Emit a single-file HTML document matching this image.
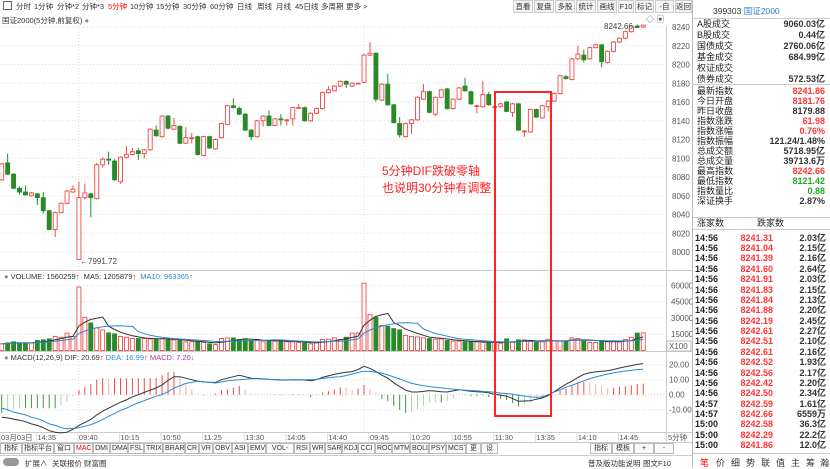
<!DOCTYPE html>
<html><head><meta charset="utf-8">
<style>
*{margin:0;padding:0;box-sizing:border-box}
body{width:830px;height:468px;overflow:hidden;background:#fff;font-family:"Liberation Sans","Noto Sans CJK SC",sans-serif;font-size:8px;color:#333;position:relative}
.a{position:absolute;white-space:nowrap}
.tb span{position:absolute;top:2px;font-size:7.5px;line-height:9px}
.btn{position:absolute;top:0;height:13px;border:1px solid #ccc;background:#f4f4f4;text-align:center;line-height:11px;font-size:7.5px;overflow:hidden}
.rp .l{position:absolute;left:697px;font-size:9px;line-height:10px;color:#222}
.rp .v{position:absolute;right:5px;font-size:9px;line-height:10px;font-weight:bold;color:#333}
.tk{position:absolute;font-size:9px;line-height:10px;font-weight:bold}
.ind{position:absolute;top:443px;height:11px;border:1px solid #bbb;line-height:9px;padding:0 1px;font-size:7px;background:#fafafa;overflow:hidden;text-align:center}
</style></head><body>
<div class="tb">
<span class="a" style="left:3px;top:1px;width:9px;height:9px;border:1px solid #666"></span>
<span class="a" style="left:16px">分时</span>
<span class="a" style="left:34px">1分钟</span>
<span class="a" style="left:57px">分钟*2</span>
<span class="a" style="left:82px">分钟*3</span>
<span class="a" style="left:108px;color:#f00">5分钟</span>
<span class="a" style="left:130px">10分钟</span>
<span class="a" style="left:156px">15分钟</span>
<span class="a" style="left:183px">30分钟</span>
<span class="a" style="left:210px">60分钟</span>
<span class="a" style="left:237px">日线</span>
<span class="a" style="left:257px">周线</span>
<span class="a" style="left:276px">月线</span>
<span class="a" style="left:295px">45日线</span>
<span class="a" style="left:321px">多周期</span>
<span class="a" style="left:346px">更多 &gt;</span>
</div>
<div class="btn" style="left:513px;width:20px">直看</div>
<div class="btn" style="left:534px;width:20px">复盘</div>
<div class="btn" style="left:555px;width:20px">多股</div>
<div class="btn" style="left:576px;width:20px">统计</div>
<div class="btn" style="left:597px;width:20px">画线</div>
<div class="btn" style="left:618px;width:16px">F10</div>
<div class="btn" style="left:635px;width:19px">标记</div>
<div class="btn" style="left:655px;width:19px">-自选</div>
<div class="btn" style="left:675px;width:17px">返回</div>
<div class="a" style="left:2px;top:15px;font-size:7.5px">国证2000(5分钟,前复权) <span style="color:#888">●</span></div>
<div class="a" style="left:646px;top:14px;font-size:8px;color:#555">◇ ▣</div>

<svg id="ch" class="a" style="left:0;top:0" width="692" height="468"></svg>

<div class="a" style="left:80px;top:257px;font-size:8px;color:#444">←7991.72</div>
<div class="a" style="left:604px;top:22px;font-size:8px;color:#444">8242.66←</div>
<div class="a" style="left:382px;top:163px;font-size:12px;color:#f22;line-height:17px">5分钟DIF跌破零轴<br>也说明30分钟有调整</div>
<div class="a" style="left:4px;top:272px;font-size:7.5px"><span style="color:#888">●</span> VOLUME: 1560259<span style="color:#f00">↑</span> &nbsp;MA5: 1205879<span style="color:#f00">↑</span> &nbsp;<span style="color:#2a8ad8">MA10: 963365</span><span style="color:#f00">↑</span></div>
<div class="a" style="left:4px;top:353px;font-size:7.5px"><span style="color:#888">●</span> MACD(12,26,9) DIF: 20.69<span style="color:#f00">↑</span> <span style="color:#2a8ad8">DEA: 16.99</span><span style="color:#f00">↑</span> <span style="color:#a040a0">MACD: 7.20</span><span style="color:#2a2">↓</span></div>

<div class="rp">
<div class="a" style="left:692px;top:0;width:1px;height:468px;background:#bbb"></div>
<div class="a" style="left:713px;top:5px;font-size:8.5px">399303 <span style="color:#2a7ad8">国证2000</span></div>
<div class="a" style="left:693px;top:18px;width:137px;height:1px;background:#ccc"></div>
<div id="rows"></div>
</div>

<div class="a" style="left:693px;top:453px;width:137px;height:15px;border-top:1px solid #ccc">
<span class="a" style="left:7px;top:2px;color:#f00;font-size:9px">笔</span>
<span class="a" style="left:23px;top:2px;font-size:9px">价</span>
<span class="a" style="left:38px;top:2px;font-size:9px">细</span>
<span class="a" style="left:53px;top:2px;font-size:9px">势</span>
<span class="a" style="left:68px;top:2px;font-size:9px">联</span>
<span class="a" style="left:83px;top:2px;font-size:9px">值</span>
<span class="a" style="left:98px;top:2px;font-size:9px">主</span>
<span class="a" style="left:113px;top:2px;font-size:9px">筹</span>
<span class="a" style="left:127px;top:2px;font-size:9px">瀚</span>
</div>

<div id="indbar"></div>
<div class="a" style="left:0;top:455px;width:692px;height:13px;border-top:1px solid #ccc;font-size:7.5px">
<span class="a" style="left:3px;top:2px;width:16px;height:8px;border-radius:4px;background:#999"></span>
<span class="a" style="left:25px;top:2px">扩展∧</span>
<span class="a" style="left:52px;top:2px">关联报价</span>
<span class="a" style="left:84px;top:2px">财富圈</span>
<span class="a" style="left:588px;top:2px">普及版功能说明</span>
<span class="a" style="left:643px;top:2px">图文F10</span>
</div>

<script>
const opens=[8077,8095,8083,8068,8064,8060,8062,8058,8044,8024,8042,8052,8064,7992,8058,8062,8057,8093,8099,8097,8075,8101,8104,8108,8105,8109,8130,8123,8145,8131,8134,8116,8121,8123,8103,8123,8110,8122,8136,8156,8153,8147,8130,8123,8140,8145,8135,8142,8140,8142,8154,8154,8140,8148,8153,8170,8172,8177,8182,8177,8180,8181,8210,8212,8162,8179,8157,8137,8123,8137,8141,8163,8171,8147,8165,8174,8153,8163,8177,8171,8156,8155,8168,8155,8155,8160,8149,8158,8129,8128,8152,8143,8155,8161,8169,8187,8184,8206,8210,8206,8218,8221,8202,8214,8224,8228,8235,8241,8240];
const closes=[8094,8083,8068,8064,8061,8063,8058,8044,8024,8042,8052,8065,8067,8058,8063,8058,8093,8099,8098,8077,8101,8104,8107,8105,8109,8131,8124,8145,8132,8135,8116,8122,8122,8104,8123,8111,8120,8137,8156,8154,8147,8130,8123,8140,8145,8135,8142,8141,8141,8154,8154,8140,8148,8153,8170,8173,8177,8182,8179,8180,8180,8210,8212,8163,8179,8157,8138,8125,8137,8141,8165,8171,8149,8165,8173,8153,8163,8175,8172,8158,8156,8168,8157,8155,8158,8150,8158,8130,8129,8152,8144,8156,8161,8169,8188,8185,8206,8211,8205,8218,8221,8203,8214,8224,8228,8235,8241,8240,8242];
const highs=[8095,8105,8084,8070,8071,8064,8063,8064,8045,8043,8053,8066,8071,8075,8073,8063,8095,8101,8107,8099,8102,8113,8111,8111,8110,8132,8135,8146,8146,8143,8135,8133,8127,8124,8124,8124,8121,8138,8157,8164,8155,8148,8131,8141,8146,8151,8143,8147,8142,8155,8158,8155,8149,8154,8171,8177,8178,8183,8183,8181,8181,8211,8224,8213,8180,8190,8158,8144,8138,8142,8166,8179,8172,8166,8174,8175,8164,8176,8186,8172,8157,8182,8171,8156,8159,8161,8159,8159,8130,8153,8153,8157,8162,8170,8189,8189,8207,8220,8216,8219,8222,8222,8215,8225,8229,8236,8242,8242.66,8242.5];
const lows=[8076,8082,8067,8061,8060,8059,8050,8041,8023,8016,8041,8051,8063,7992,8056,8037,8056,8090,8093,8076,8073,8100,8103,8098,8100,8108,8123,8122,8131,8130,8115,8115,8116,8103,8102,8110,8109,8121,8135,8153,8146,8129,8119,8122,8134,8134,8134,8135,8135,8135,8153,8139,8139,8147,8152,8169,8171,8176,8175,8176,8179,8180,8209,8160,8161,8156,8137,8122,8122,8126,8140,8162,8148,8145,8164,8152,8152,8162,8171,8157,8148,8154,8156,8154,8154,8149,8144,8129,8123,8127,8143,8142,8150,8160,8168,8184,8183,8205,8202,8205,8217,8197,8201,8213,8223,8227,8234,8239,8239];
const volumes=[6100,7000,8000,7000,7000,7000,9200,9800,10700,13000,12200,16000,13000,58500,30600,25400,20800,19000,16200,15300,13000,12200,11000,11000,11000,10700,10400,11000,9800,9800,9200,8000,8000,8000,7400,6100,5500,11000,11600,11600,10100,9800,9200,10100,8000,9200,8600,9200,8000,8000,7400,7000,6100,7000,10100,10400,11600,10100,12200,16000,16200,62000,33000,30600,23000,22300,20200,19000,13800,13000,12500,11600,11000,10400,10700,9200,8600,8600,8000,8000,8000,7400,7400,7400,6700,10700,7400,9800,9800,9200,7400,8000,10400,9200,8600,8600,11600,11000,9200,7400,7400,9200,8000,8000,8000,10100,12200,16000,16200];
const difValues=[-15,-15.5,-16.3,-17,-18,-19.5,-20.5,-22,-24,-25,-25.5,-25,-23,-20.5,-18.5,-16.5,-13.5,-11,-9,-7,-5,-3.5,-1.5,0,1.5,3,4.5,6.5,9.5,12,12,11,10,9,8.5,8.2,8.2,10,11,12,12.9,12,11,10.8,10.5,10.2,10,9.8,9.8,10,10,9.8,9.3,10,11.5,12.5,13.5,14.4,15,15.4,16.8,18.9,17.5,15.5,13,11,8,5.4,3,1.8,1.8,2.2,2.7,2.4,1.9,1.8,2.5,3.3,2.8,2.3,2,1.8,1.2,0.3,-0.3,-1,-2.5,-4.4,-4.2,-4,-3,-2.2,-0.5,2,4.5,7,9,11.5,13.5,14.6,15.2,15.6,16,16.8,17.8,18.6,19.4,20.2,20.7];
const deaValues=[-8.9,-10,-11.6,-12.5,-13.5,-15,-16,-17.5,-19.5,-20.5,-22,-22.7,-22.5,-22,-21,-20,-18.5,-16.5,-14.4,-12.5,-10.5,-9,-7,-5.5,-4,-2.5,-1,0,2,4.4,6,7.5,8.2,8.9,8.7,8.2,7.8,8.5,9.3,9.6,10,10.3,10.7,10.6,10.4,10.2,10.1,10,9.9,9.8,9.8,9.9,10.1,10.2,10.8,11.3,11.8,12,12.8,13.8,14.8,15.6,15.5,15,14.4,13.2,11.8,10.5,9,7.5,6.7,6,5.4,4.9,4.5,4.1,3.7,3.3,3,2.8,2.5,2.2,2,1.6,1.1,0.8,0.3,-0.4,-0.9,-1.5,-1.8,-1.5,0,1.8,3.2,5,6.2,7.8,9.3,10.7,11.8,12.8,13.8,14.5,15.2,15.8,16.3,16.7,17];
const priceTicks=[8240,8220,8200,8180,8160,8140,8120,8100,8080,8060,8040,8020,8000];
const volTicks=[60000,45000,30000,15000];
const macdTicks=[20,10,0,-10];
const timeLabels=["03月03日","14:35","09:40","10:15","10:50","11:25","13:30","14:05","14:40","09:45","10:20","10:55","11:30","13:35","14:10","14:45"];
const timeLabelIdx=[-1,6,13,20,27,34,41,48,55,62,69,76,83,90,97,104];
const dayStartIdx=[13,61];

const NS="http://www.w3.org/2000/svg";
const svg=document.getElementById('ch');
const RIGHT=666;
const xOf=i=>1.7+i*5.94;
const yP=p=>252-(p-8000)*0.9375;
const yV=v=>350.5-v*0.001085;
const yM=m=>394.7-m*1.5;
function mk(tag,attrs,parent){const e=document.createElementNS(NS,tag);for(const k in attrs)e.setAttribute(k,attrs[k]);(parent||svg).appendChild(e);return e;}
function txt(x,y,s,attrs){const t=mk('text',Object.assign({x:x,y:y,'font-size':'8','fill':'#555','font-family':'"Liberation Sans","Noto Sans CJK SC",sans-serif'},attrs||{}));t.textContent=s;return t;}

[[270],[351],[432]].forEach(function(a){const l=mk('line',{x1:0,x2:692,y1:a[0]+0.5,y2:a[0]+0.5,stroke:'#ccc'});

});
const ax=mk('line',{x1:RIGHT+0.5,x2:RIGHT+0.5,y1:26,y2:442,stroke:'#ccc'});



priceTicks.forEach(function(p){
 const g=mk('line',{x1:0,x2:RIGHT,y1:yP(p),y2:yP(p),stroke:'#ddd','stroke-dasharray':'1,2'});
 
 
 const t=txt(RIGHT+6,yP(p)+3,String(p));
 
 
});
volTicks.forEach(function(v){
 const g=mk('line',{x1:0,x2:RIGHT,y1:yV(v),y2:yV(v),stroke:'#ddd','stroke-dasharray':'1,2'});
 
 
 const t=txt(RIGHT+5,yV(v)+3,String(v));
 
 
});
const xb=mk('rect',{x:RIGHT+1,y:341,width:24,height:10,fill:'#fff',stroke:'#bbb'});


const xt=txt(RIGHT+3,349,'X100');


macdTicks.forEach(function(m){
 const g=mk('line',{x1:0,x2:RIGHT,y1:yM(m),y2:yM(m),stroke:m===0?'#ccc':'#ddd','stroke-dasharray':'1,2'});
 
 
 const t=txt(RIGHT+3,yM(m)+3,m.toFixed(2));
 
 
});
dayStartIdx.forEach(function(i){
 const g=mk('line',{x1:xOf(i),x2:xOf(i),y1:26,y2:432,stroke:'#ddd','stroke-dasharray':'1,2'});
 
 
});
const ta=mk('line',{x1:0,x2:692,y1:442.5,y2:442.5,stroke:'#ccc'});


timeLabels.forEach(function(s,k){
 const x=timeLabelIdx[k]<0?0:xOf(timeLabelIdx[k])-1;
 const tk=mk('line',{x1:x,x2:x,y1:433,y2:442,stroke:'#ddd'});
 
 
 const t=txt(x+1,440,s,{'font-size':'7.5'});
 
 
});
const pl=txt(RIGHT+2,440,'5分钟',{'font-size':'7.5'});



const RED='#f04848',GREEN='#2a8a2a';
for(let i=0;i<opens.length;i++){
 const x=xOf(i),o=opens[i],c=closes[i],up=c>=o;
 const col=up?RED:GREEN;
 const top=yP(Math.max(o,c)),bot=yP(Math.min(o,c));
 const w1=mk('line',{x1:x,x2:x,y1:yP(highs[i]),y2:top,stroke:col});
 
 
 const w2=mk('line',{x1:x,x2:x,y1:bot,y2:yP(lows[i]),stroke:col});
 
 
 const b=mk('rect',{x:x-2,y:top,width:4,height:Math.max(bot-top,0.8),fill:up?'#fff':col,stroke:col,'stroke-width':'0.9'});
 
 
 const vb=mk('rect',{x:x-2,y:yV(volumes[i]),width:4,height:350.5-yV(volumes[i]),fill:up?'#fff':col,stroke:col,'stroke-width':'0.9'});
 
 
}
function ma(n){return volumes.map(function(v,i){let s=0,c=0;for(let k=Math.max(0,i-n+1);k<=i;k++){s+=volumes[k];c++;}return s/c;});}
function poly(vals,yf,col,name){
 const pts=vals.map(function(v,i){return xOf(i).toFixed(1)+','+yf(v).toFixed(1);}).join(' ');
 const p=mk('polyline',{points:pts,fill:'none',stroke:col,'stroke-width':'1'});
 
 
}
poly(ma(5),yV,'#333','volume-ma5-line');
poly(ma(10),yV,'#2a8ad8','volume-ma10-line');
for(let i=0;i<difValues.length;i++){
 const h=2*(difValues[i]-deaValues[i]);
 const prev=i>0?2*(difValues[i-1]-deaValues[i-1]):h;
 const strong=Math.abs(h)>=Math.abs(prev);
 const col=h>=0?(strong?'#f04848':'#f8b0b0'):(strong?'#3a9a3a':'#a8d8a8');
 const l=mk('line',{x1:xOf(i),x2:xOf(i),y1:yM(0),y2:yM(h),stroke:col,'stroke-width':'1'});
 
 
}
poly(difValues,yM,'#333','dif-line');
poly(deaValues,yM,'#2a8ad8','dea-line');
const box=mk('rect',{x:495,y:92,width:56,height:324,fill:'none',stroke:'#f22','stroke-width':'2'});



const rows=document.getElementById('rows');
const top1=[["A股成交","9060.03亿"],["B股成交","0.44亿"],["国债成交","2760.06亿"],["基金成交","684.99亿"],["权证成交",""],["债券成交","572.53亿"]];
const top2=[["最新指数","8241.86","#f33"],["今日开盘","8181.76","#f33"],["昨日收盘","8179.88","#333"],["指数涨跌","61.98","#f33"],["指数涨幅","0.76%","#f33"],["指数振幅","121.24/1.48%","#333"],["总成交额","5718.95亿","#333"],["总成交量","39713.6万","#333"],["最高指数","8242.66","#f33"],["最低指数","8121.42","#2a2"],["指数量比","0.88","#2a2"],["深证换手","2.87%","#333"]];
function addRow(lbl,val,col,y){
 const l=document.createElement('div');l.className='l';l.style.top=(y-5)+'px';l.textContent=lbl;
 
 
 rows.appendChild(l);
 const v=document.createElement('div');v.className='v';v.style.top=(y-5)+'px';v.style.color=col||'#333';v.textContent=val;
 
 
 rows.appendChild(v);
}
top1.forEach(function(r,k){addRow(r[0],r[1],'#333',24+k*11.07);});
const sep=document.createElement('div');sep.className='a';sep.style.cssText='left:693px;top:84px;width:137px;height:1px;background:#ccc';rows.appendChild(sep);
top2.forEach(function(r,k){addRow(r[0],r[1],r[2],91+k*10);});
const sep2=document.createElement('div');sep2.className='a';sep2.style.cssText='left:693px;top:217px;width:137px;height:1px;background:#ccc';rows.appendChild(sep2);
const hd=document.createElement('div');hd.className='a';hd.style.cssText='left:697px;top:218px;font-size:9px;line-height:10px;color:#222';hd.innerHTML='涨家数<span style="position:absolute;left:60px">跌家数</span>';


rows.appendChild(hd);
const sep3=document.createElement('div');sep3.className='a';sep3.style.cssText='left:693px;top:229px;width:137px;height:1px;background:#ccc';rows.appendChild(sep3);
const tickTimes=["14:56","14:56","14:56","14:56","14:56","14:56","14:56","14:56","14:56","14:56","14:56","14:56","14:56","14:56","14:56","14:56","14:57","14:57","15:00","15:00","15:00"];
const tickPrices=["8241.31","8241.04","8241.39","8241.60","8241.91","8241.83","8241.84","8241.88","8242.19","8242.61","8242.51","8242.61","8242.52","8242.56","8242.42","8242.50","8242.59","8242.66","8242.58","8242.29","8241.86"];
const tickVols=["2.03亿","2.15亿","2.16亿","2.64亿","2.03亿","2.15亿","2.13亿","2.20亿","2.45亿","2.27亿","2.10亿","2.16亿","1.93亿","2.17亿","2.20亿","2.34亿","1.61亿","6559万","36.3亿","22.2亿","12.0亿"];
tickTimes.forEach(function(t,k){
 const y=237.7+k*10.37-5;
 const a=document.createElement('div');a.className='tk';a.style.cssText='left:695px;top:'+y+'px;color:#222';a.textContent=t;
 
 
 rows.appendChild(a);
 const b=document.createElement('div');b.className='tk';b.style.cssText='right:57px;top:'+y+'px;color:#f33';b.textContent=tickPrices[k];
 
 
 rows.appendChild(b);
 const c=document.createElement('div');c.className='tk';c.style.cssText='right:4px;top:'+y+'px;color:#333';c.textContent=tickVols[k];
 
 
 rows.appendChild(c);
});
const indNames=["指标A","指标平台","窗口","MACD","DMI","DMA","FSL","TRIX","BRAR","CR","VR","OBV","ASI","EMV","VOL-TDX","RSI","WR","SAR","KDJ","CCI","ROC","MTM","BOLL","PSY","MCST","更多","设置"];
const indX=[0,22,54,74,93,110,128,144,163,185,199,213,232,248,266,294,310,325,342,358,375,392,410,429,446,466,481,498];
const ib=document.getElementById('indbar');
indNames.forEach(function(n,k){
 const d=document.createElement('div');d.className='ind';d.style.left=indX[k]+'px';d.style.width=(indX[k+1]-indX[k])+'px';d.textContent=n;
 if(n==='MACD')d.style.color='#f00';
 
 
 ib.appendChild(d);
});
[["指标B",590,22],["模板",612,22],["+",634,20],["-",654,20]].forEach(function(r){
 const d=document.createElement('div');d.className='ind';d.style.left=r[1]+'px';d.style.width=r[2]+'px';d.textContent=r[0];
 
 
 ib.appendChild(d);
});
</script>
</body></html>
